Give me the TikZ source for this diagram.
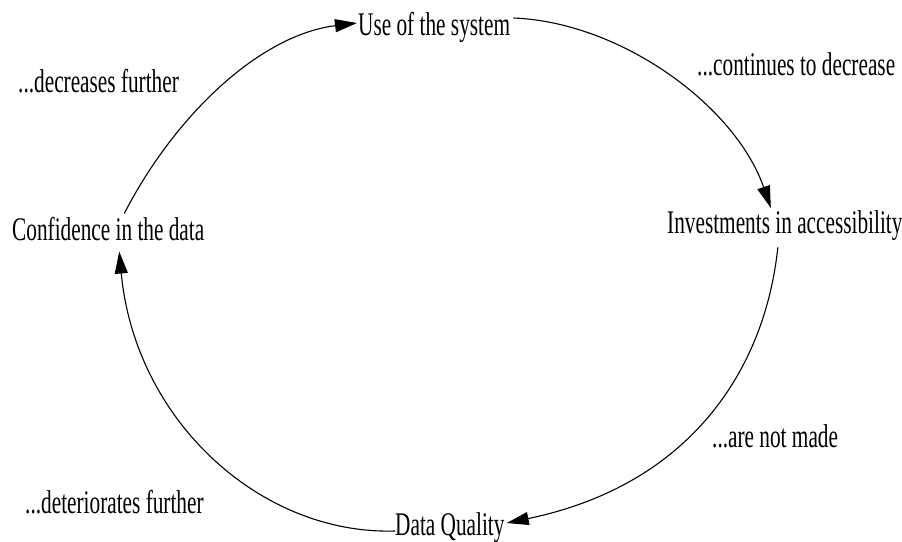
\documentclass[tikz,border=0pt]{standalone}
\usepackage{fontspec}
\setmainfont{Liberation Serif}[FakeStretch=0.645]
\usetikzlibrary{arrows.meta,calc}
\begin{document}
\begin{tikzpicture}[x=1pt,y=-1pt,
  lbl/.style={inner sep=0pt,anchor=base west,font=\fontsize{33}{36}\selectfont},
  flow/.style={line width=1.1pt,-{Triangle[length=22pt,width=13pt]}}]
\useasboundingbox (0,0) rectangle (902,541);
% the four stages of the cycle
\node[lbl] (use)  at (358,35)  {Use of the system};
\node[lbl] (inv)  at (667,233) {Investments in accessibility};
\node[lbl] (dq)   at (395,535) {Data Quality};
\node[lbl] (conf) at (12,240)  {Confidence in the data};
% what happens along each step
\node[lbl] (l1) at (18,92)   {...decreases further};
\node[lbl] (l2) at (697,75)  {...continues to decrease};
\node[lbl] (l3) at (712,447) {...are not made};
\node[lbl] (l4) at (25,513)  {...deteriorates further};
% connectors
\draw[flow] ($(conf.north)+(16,-3)$) .. controls (175,115) and (260,35) .. ($(use.base west)+(-1,-12)$);
\draw[flow] ($(use.base east)+(3,-17)$) .. controls (620,22) and (735,105) .. ($(inv.north)+(-14,-2)$);
\draw[flow] ($(inv.south)+(-7,7)$) .. controls (765,370) and (690,485) .. ($(dq.base east)+(2,-12)$);
\draw[flow] ($(dq.base west)+(0,-4)$) .. controls (260,535) and (135,420) .. ($(conf.south)+(11,11)$);
\end{tikzpicture}
\end{document}
